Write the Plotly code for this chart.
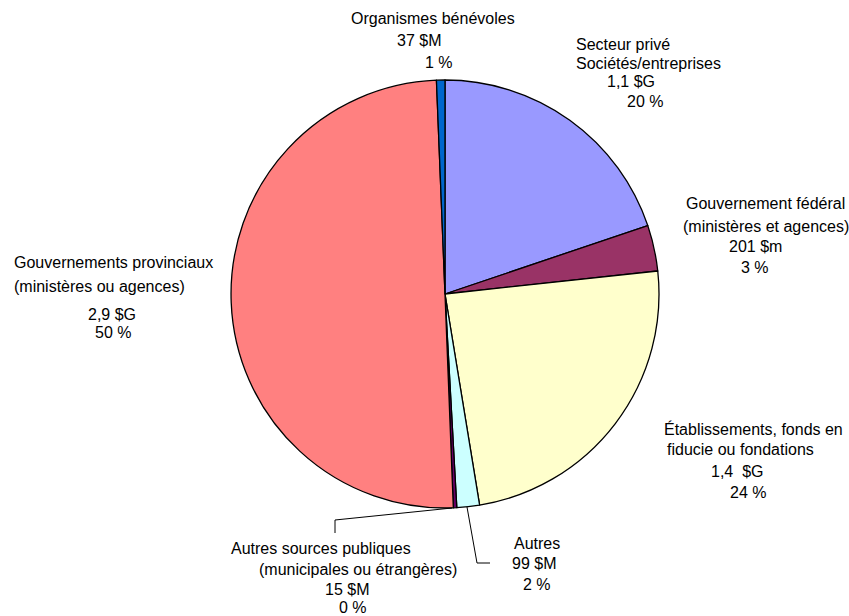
import plotly.graph_objects as go

W, H = 849, 616

categories = ["Secteur privé", "Gouvernement fédéral", "Établissements", "Autres",
              "Autres sources publiques", "Gouvernements provinciaux", "Organismes bénévoles"]
values_m = [1150, 201, 1400, 99, 15, 2900, 37]
colors = ["#9999FF", "#993366", "#FFFFCC", "#CCFFFF", "#660066", "#FF8080", "#0066CC"]

# label lines: (text, left px, center y px)
label_lines = [
    ("Organismes bénévoles", 349, 18), ("37 $M", 395, 40), ("1 %", 423, 62),
    ("Secteur privé", 574, 45), ("Sociétés/entreprises", 574, 63), ("1,1 $G", 605, 81), ("20 %", 625, 101),
    ("Gouvernement fédéral", 684, 203), ("(ministères et agences)", 681, 227), ("201 $m", 727, 246), ("3 %", 739, 267),
    ("Gouvernements provinciaux", 12, 262), ("(ministères ou agences)", 12, 286), ("2,9 $G", 86, 314), ("50 %", 93, 332),
    ("Établissements, fonds en", 662, 429), ("fiducie ou fondations", 665, 449), ("1,4  $G", 709, 471), ("24 %", 728, 492),
    ("Autres", 512, 543), ("99 $M", 510, 563), ("2 %", 521, 584),
    ("Autres sources publiques", 229, 548), ("(municipales ou étrangères)", 257, 569), ("15 $M", 323, 589), ("0 %", 337, 607),
]

cx, cy, r = 445, 294, 214

fig = go.Figure(go.Pie(
    labels=categories, values=values_m, sort=False, direction="clockwise", rotation=0,
    marker=dict(colors=colors, line=dict(color="black", width=1.3)),
    textinfo="none", hoverinfo="label+value+percent", showlegend=False,
    domain=dict(x=[(cx - r) / W, (cx + r) / W], y=[1 - (cy + r) / H, 1 - (cy - r) / H]),
))

def px(x):
    return x / W

def py(y):
    return 1 - y / H

annotations = [dict(text=t, x=px(x), y=py(y), xref="paper", yref="paper", xanchor="left", yanchor="middle",
                    showarrow=False, font=dict(family="Liberation Sans, Arial", size=16, color="black"))
               for t, x, y in label_lines]

shapes = []
for pts in [[(452, 508), (335, 520), (335, 533)], [(467, 507), (477, 563), (490, 563)]]:
    path = "M " + " L ".join(f"{px(x)} {py(y)}" for x, y in pts)
    shapes.append(dict(type="path", xref="paper", yref="paper", path=path, line=dict(color="black", width=1)))

fig.update_layout(width=W, height=H, margin=dict(l=0, r=0, t=0, b=0),
                  paper_bgcolor="white", plot_bgcolor="white",
                  annotations=annotations, shapes=shapes)

fig.write_html("out.html", config={"displayModeBar": False},
               post_script="document.body.style.margin='0px';document.body.style.overflow='hidden';")
